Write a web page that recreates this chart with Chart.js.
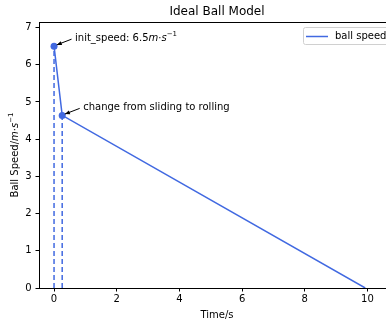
<!DOCTYPE html>
<html>
<head>
<meta charset="utf-8">
<script src="https://cdn.jsdelivr.net/npm/chart.js@4/dist/chart.umd.min.js"></script>
<style>
  html, body { margin: 0; padding: 0; background: #fff; overflow: hidden; }
  #wrap { width: 386px; height: 321px; overflow: hidden; }
  #box { width: 410px; height: 321px; }
</style>
</head>
<body>
<div id="wrap"><div id="box"><canvas id="ballChart"></canvas></div></div>
<script>
// data
const timeValues = [0, 0.26, 9.93];
const speedValues = [6.5, 4.64, 0];
const markedPoints = [0, 1]; // indexes that get a marker, a dashed drop line and a note
const unitParts = [['m', 'i'], ['\u00b7', ''], ['s', 'i'], ['\u22121', 'sup']];
const notes = [[['init_speed: 6.5', ''], ...unitParts], [['change from sliding to rolling', '']]];
const yTitle = [['Ball Speed/', ''], ...unitParts];
const xTickValues = [0, 2, 4, 6, 8, 10];
const yTickValues = [0, 1, 2, 3, 4, 5, 6, 7];

const lineColor = 'rgb(65, 105, 225)';
const fontFamily = '"DejaVu Sans", sans-serif';

const mainPoints = timeValues.map((t, i) => ({ x: t, y: speedValues[i] }));

const dropLines = markedPoints.map(i => ({
    data: [{ x: timeValues[i], y: 0 }, { x: timeValues[i], y: speedValues[i] }],
    borderColor: lineColor,
    borderWidth: 1.5,
    borderDash: [5, 3],
    pointRadius: 0,
    showLine: true
}));

function fontFor(style) {
    if (style === 'i') return 'oblique 10px ' + fontFamily;
    if (style === 'sup') return '7px ' + fontFamily;
    return '10px ' + fontFamily;
}

function richWidth(ctx, parts) {
    return parts.reduce((w, [t, s]) => { ctx.font = fontFor(s); return w + ctx.measureText(t).width; }, 0);
}

// draws text parts left to right starting at x, middle baseline at y
function drawRich(ctx, parts, x, y) {
    parts.forEach(([t, s]) => {
        ctx.font = fontFor(s);
        ctx.fillText(t, x, s === 'sup' ? y - 4 : y);
        x += ctx.measureText(t).width;
    });
}

// top + right spines, legend box, notes, title
const extrasPlugin = {
    id: 'extras',
    afterDatasetsDraw(chart) {
        const { ctx, chartArea: a, scales } = chart;
        ctx.save();
        ctx.strokeStyle = '#000';
        ctx.lineWidth = 1;
        ctx.beginPath();
        ctx.moveTo(a.left, a.top + 0.5);
        ctx.lineTo(a.right, a.top + 0.5);
        ctx.lineTo(a.right, a.bottom);
        ctx.stroke();

        ctx.fillStyle = '#000';
        ctx.textBaseline = 'middle';
        markedPoints.forEach((idx, k) => {
            const px = scales.x.getPixelForValue(timeValues[idx]);
            const py = scales.y.getPixelForValue(speedValues[idx]);
            drawRich(ctx, notes[k], px + 21, py - 7.5);
            const x0 = px + 17.5, y0 = py - 7, x1 = px + 2.7, y1 = py - 1.3;
            ctx.beginPath();
            ctx.moveTo(x0, y0);
            ctx.lineTo(x1, y1);
            ctx.lineWidth = 1;
            ctx.stroke();
            const ang = Math.atan2(y1 - y0, x1 - x0);
            const hl = 5, hw = 2;
            ctx.beginPath();
            ctx.moveTo(x1, y1);
            ctx.lineTo(x1 - hl * Math.cos(ang) + hw * Math.sin(ang), y1 - hl * Math.sin(ang) - hw * Math.cos(ang));
            ctx.lineTo(x1 - hl * Math.cos(ang) - hw * Math.sin(ang), y1 - hl * Math.sin(ang) + hw * Math.cos(ang));
            ctx.closePath();
            ctx.fill();
        });

        // y axis title, rotated
        const tw = richWidth(ctx, yTitle);
        ctx.save();
        ctx.translate(15, (a.top + a.bottom) / 2);
        ctx.rotate(-Math.PI / 2);
        drawRich(ctx, yTitle, -tw / 2, 0);
        ctx.restore();

        // legend
        const bx = a.right - 92, by = a.top + 5, bw = 87, bh = 17;
        ctx.beginPath();
        ctx.roundRect(bx + 0.5, by + 0.5, bw, bh, 2);
        ctx.fillStyle = 'rgba(255,255,255,0.8)';
        ctx.fill();
        ctx.strokeStyle = '#d0d0d0';
        ctx.stroke();
        ctx.beginPath();
        ctx.moveTo(bx + 3, by + 9.5);
        ctx.lineTo(bx + 25, by + 9.5);
        ctx.strokeStyle = lineColor;
        ctx.lineWidth = 1.5;
        ctx.stroke();
        ctx.fillStyle = '#000';
        ctx.font = '10px ' + fontFamily;
        ctx.fillText('ball speed', bx + 32, by + 9.5);

        // title over the axes
        ctx.font = '12px ' + fontFamily;
        ctx.textAlign = 'center';
        ctx.fillText('Ideal Ball Model', (a.left + a.right) / 2, 12);
        ctx.restore();
    }
};

new Chart(document.getElementById('ballChart'), {
    type: 'scatter',
    data: {
        datasets: [{
            label: 'ball speed',
            data: mainPoints,
            showLine: true,
            borderColor: lineColor,
            backgroundColor: lineColor,
            borderWidth: 1.5,
            pointRadius: ctx => markedPoints.includes(ctx.dataIndex) ? 3.5 : 0,
            pointBorderWidth: 0
        }, ...dropLines]
    },
    options: {
        responsive: true,
        maintainAspectRatio: false,
        animation: false,
        layout: { padding: { top: 22, right: 15, left: 0, bottom: 0 } },
        plugins: {
            legend: { display: false },
            title: { display: false },
            tooltip: { enabled: false }
        },
        scales: {
            x: {
                type: 'linear',
                min: -0.48,
                max: 10.88,
                afterFit: s => { s.height = 33; },
                afterBuildTicks: s => { s.ticks = xTickValues.map(v => ({ value: v })); },
                grid: { display: true, drawOnChartArea: false, drawTicks: true, tickLength: 3.5, tickColor: '#000' },
                border: { display: true, color: '#000', width: 1 },
                ticks: { color: '#000', font: { family: fontFamily, size: 10 }, padding: 2, maxRotation: 0 },
                title: { display: true, text: 'Time/s', color: '#000', font: { family: fontFamily, size: 10 }, padding: { top: 3, bottom: 0 } }
            },
            y: {
                min: 0,
                max: 7.15,
                afterFit: s => { s.width = 39; },
                afterBuildTicks: s => { s.ticks = yTickValues.map(v => ({ value: v })); },
                grid: { display: true, drawOnChartArea: false, drawTicks: true, tickLength: 3.5, tickColor: '#000' },
                border: { display: true, color: '#000', width: 1 },
                ticks: { color: '#000', font: { family: fontFamily, size: 10 }, padding: 4 },
                title: { display: false }
            }
        }
    },
    plugins: [extrasPlugin]
});
</script>
</body>
</html>
